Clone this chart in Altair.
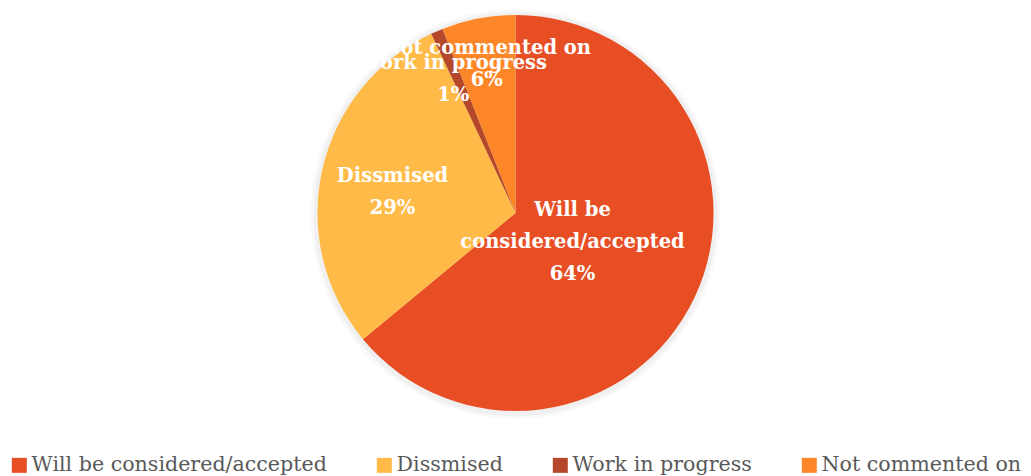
import altair as alt
import pandas as pd

categories = ["Will be considered/accepted", "Dissmised", "Work in progress", "Not commented on"]
label_lines = ["Will be\nconsidered/accepted", "Dissmised", "Work in progress", "Not commented on"]
values = [64, 29, 1, 6]
colors = ["#E84E24", "#FFBA47", "#B5472A", "#FD8628"]

df = pd.DataFrame({
    "category": categories,
    "label": label_lines,
    "value": values,
    "order": list(range(len(categories))),
})

CX, CY = 515.5, 213

base = alt.Chart(df)

shadow_layers = []
for rad, op in [(205, 0.025), (202, 0.035)]:
    shadow_layers.append(
        base.mark_arc(outerRadius=rad, color="#000000", opacity=op).encode(
            theta=alt.Theta("value:Q", stack=True),
            order=alt.Order("order:Q"),
            x=alt.value(CX),
            y=alt.value(CY + 1),
        )
    )

pie = base.mark_arc(outerRadius=198).encode(
    theta=alt.Theta("value:Q", stack=True),
    order=alt.Order("order:Q"),
    x=alt.value(CX),
    y=alt.value(CY),
    color=alt.Color(
        "category:N",
        scale=alt.Scale(domain=categories, range=colors),
        sort=categories,
        legend=alt.Legend(
            title=None,
            orient="none",
            legendX=9,
            legendY=455,
            padding=0,
            direction="horizontal",
            symbolType="square",
            symbolSize=225,
            symbolStrokeWidth=0,
            symbolOpacity=1,
            labelFont="DejaVu Serif",
            labelFontSize=20.6,
            labelColor="#595959",
            columnPadding=47,
            labelOffset=2,
            labelLimit=400,
        ),
    ),
)

label_base = base.transform_joinaggregate(
    total="sum(value)"
).transform_window(
    cum="sum(value)", sort=[alt.SortField("order")]
).transform_calculate(
    mid="(datum.cum - datum.value / 2) / datum.total * 2 * PI",
    txt="datum.label + '\\n' + format(datum.value / datum.total, '.0%')",
)

label_pos = {
    "Will be considered/accepted": (63, 0, -30),
    "Dissmised": (125, -1, -10),
    "Work in progress": (149, -3, -13),
    "Not commented on": (153, 0, -15),
}

layers = shadow_layers + [pie]
for cat in categories:
    r, dx, dy = label_pos[cat]
    layers.append(
        label_base.transform_filter(alt.datum.category == cat).mark_text(
            radius=r,
            dx=dx,
            dy=dy,
            font="DejaVu Serif",
            fontSize=19.5,
            fontWeight="bold",
            color="white",
            align="center",
            baseline="middle",
            lineBreak="\n",
            lineHeight=32,
        ).encode(
            theta=alt.Theta("mid:Q", scale=None),
            x=alt.value(CX),
            y=alt.value(CY),
            text="txt:N",
        )
    )

chart = alt.layer(*layers).properties(
    width=1031,
    height=476,
    padding=0,
    autosize=alt.AutoSizeParams(type="none"),
    background="white",
).configure_view(stroke=None)

chart.save("out.html", embed_options={"renderer": "svg", "actions": False})
